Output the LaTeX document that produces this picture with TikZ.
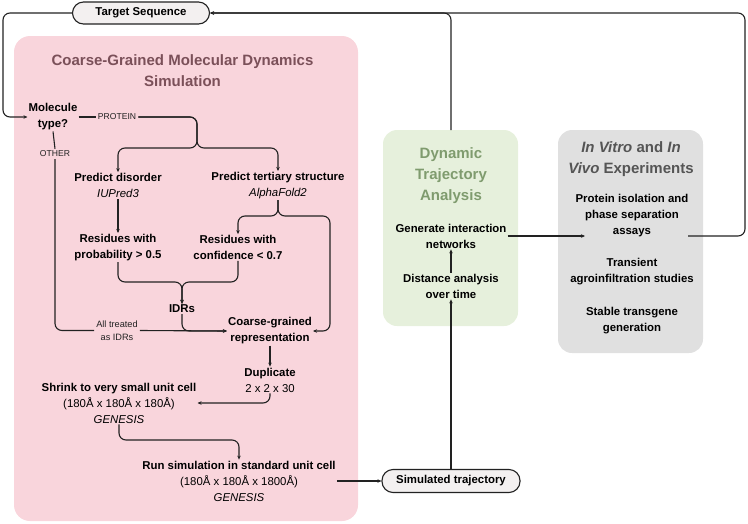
\documentclass[tikz,border=0pt]{standalone}
\usepackage{fontspec}
\setmainfont{Liberation Sans}
\usetikzlibrary{arrows.meta}
\definecolor{pinkbg}{HTML}{F9D5DC}
\definecolor{pinktitle}{HTML}{7B5059}
\definecolor{greenbg}{HTML}{E6F0DC}
\definecolor{greentitle}{HTML}{7F9B6E}
\definecolor{greybg}{HTML}{E0E0E0}
\definecolor{greytitle}{HTML}{555555}
\definecolor{pillbg}{HTML}{F3F0F0}
\definecolor{ln}{HTML}{222222}
\tikzset{
  lbl/.style={font=\fontsize{11.4}{16}\selectfont\bfseries, align=center, inner sep=1pt, text=black},
  smalllbl/.style={font=\fontsize{8.6}{13}\selectfont, align=center, inner sep=2pt, text=ln},
  pill/.style={draw=ln, line width=1.1pt, fill=pillbg, rounded corners=11pt, font=\fontsize{11.4}{13}\selectfont\bfseries, inner sep=0pt},
  conn/.style={draw=ln, line width=1.1pt, rounded corners=7pt},
  arr/.style={conn, -{Stealth[length=4pt,width=3.5pt]}},
  ttl/.style={font=\fontsize{15}{21}\selectfont\bfseries, align=center, inner sep=0pt},
}
\begin{document}
\begin{tikzpicture}[x=1pt,y=-1pt]
\useasboundingbox (0,0) rectangle (748,523);
% panels
\fill[pinkbg, rounded corners=16pt] (14,36) rectangle (358,521);
\fill[greenbg, rounded corners=14pt] (383,130) rectangle (518,326);
\fill[greybg, rounded corners=14pt] (558,130) rectangle (703,353);
\coordinate (greentop) at (451,130);
% titles
\node[ttl, text=pinktitle] (pinkttl) at (182.5,70.5) {Coarse-Grained Molecular Dynamics\\Simulation};
\node[ttl, text=greentitle] (greenttl) at (451,176) {Dynamic\\Trajectory\\Analysis};
\node[ttl, text=greytitle] (greyttl) at (631,159.5) {\textit{In Vitro} and \textit{In}\\\textit{Vivo} Experiments};
% pills
\node[pill, minimum width=137pt, minimum height=22pt] (ts) at (141,13) {Target Sequence};
\node[pill, minimum width=138pt, minimum height=23pt] (st) at (451,481) {Simulated trajectory};
% nodes
\node[lbl] (mol) at (53,117) {Molecule\\type?};
\node[smalllbl] (plab) at (117,117) {PROTEIN};
\node[smalllbl, fill=pinkbg] (olab) at (55,154) {OTHER};
\node[smalllbl, font=\fontsize{9.2}{13}\selectfont] (alab) at (117,330.5) {All treated\\as IDRs};
\node[lbl] (pd) at (118,185.5) {Predict disorder\\{\normalfont\itshape IUPred3}};
\node[lbl] (pt) at (278,185.5) {Predict tertiary structure\\{\normalfont\itshape AlphaFold2}};
\node[lbl] (rp) at (118,247.5) {Residues with\\probability > 0.5};
\node[lbl] (rc) at (238,247.5) {Residues with\\confidence < 0.7};
\node[lbl] (idr) at (182,309) {IDRs};
\node[lbl] (cg) at (270,331) {Coarse-grained\\representation};
\node[lbl] (dup) at (270,380) {Duplicate\\{\normalfont 2 x 2 x 30}};
\node[lbl] (shr) at (119,403) {Shrink to very small unit cell\\{\normalfont (180Å x 180Å x 180Å)}\\{\normalfont\itshape GENESIS}};
\node[lbl] (run) at (239,481) {Run simulation in standard unit cell\\{\normalfont (180Å x 180Å x 1800Å)}\\{\normalfont\itshape GENESIS}};
\node[lbl] (gen) at (451,236) {Generate interaction\\networks};
\node[lbl] (dist) at (451,286) {Distance analysis\\over time};
\node[lbl] (prot) at (632,216) {Protein isolation and\\phase separation\\assays};
\node[lbl] (trans) at (632,272) {Transient\\agroinfiltration studies};
\node[lbl] (stab) at (632,321) {Stable transgene\\generation};
\coordinate (protin) at (585,236);
\coordinate (expout) at (688,236);
% connectors
\draw[arr] (ts.west) -- (3,13) |- (mol.west);
\draw[conn] (mol.east) -- (plab.west);
\draw[arr] (plab.east) -| (197,148) -| (pd.north);
\draw[arr] (plab.east) -| (197,148) -| (pt.north);
\draw[arr] (pd.south) -- (rp.north);
\draw[arr] (pt.south) |- (238,216) -- (rc.north);
\draw[arr] (pt.south) |- (330,216) |- (cg.east);
\draw[arr] (rp.south) |- (182,282) -- (idr.north);
\draw[arr] (rc.south) |- (182,282) -- (idr.north);
\draw[arr] (idr.south) |- (cg.west);
\draw[conn] (mol.south) -- (olab.north);
\draw[conn] (olab.south) |- (alab.west);
\draw[arr] (alab.east) -- (cg.west);
\draw[arr] (cg.south) -- (dup.north);
\draw[arr] (dup.south) |- (shr.east);
\draw[arr] (shr.south) |- (239,440) -- (run.north);
\draw[arr] (run.east) -- (st.west);
\draw[arr] (st.north) -- (dist.south);
\draw[arr] (dist.north) -- (gen.south);
\draw[arr] (gen.east) -- (protin);
\draw[arr] (expout) -- (745,236) |- (ts.east);
\draw[arr] (greentop) |- (ts.east);
\end{tikzpicture}
\end{document}
